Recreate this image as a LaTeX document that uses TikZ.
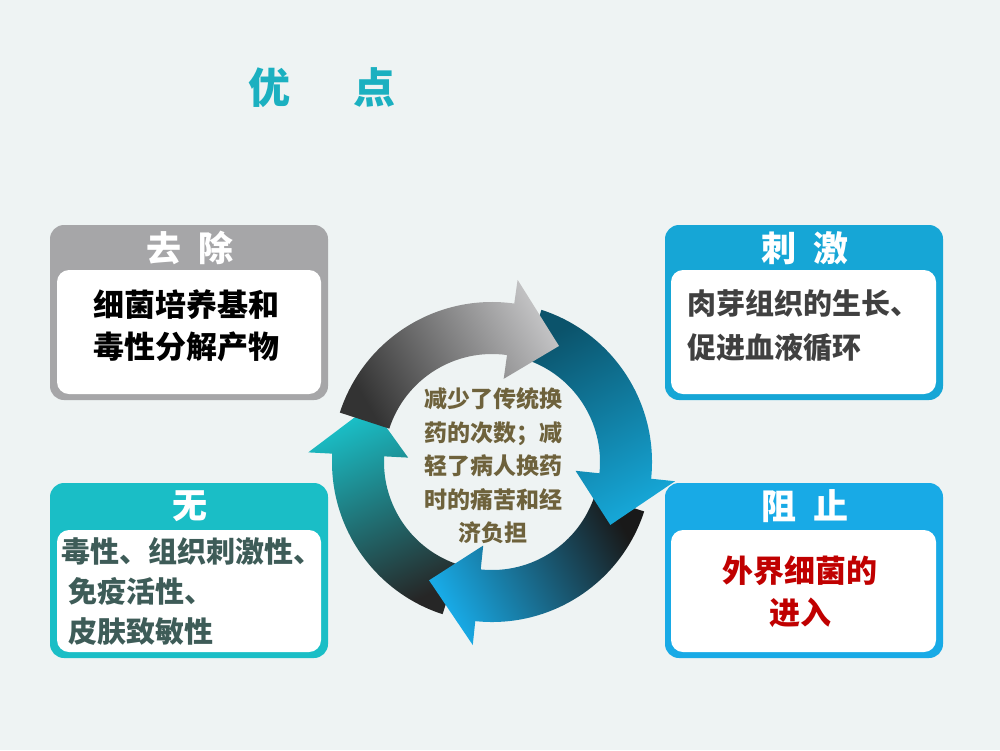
\documentclass[tikz,border=0pt]{standalone}
\usepackage{fontspec}
\setmainfont{Noto Sans CJK SC}
\begin{document}
\begin{tikzpicture}[x=1pt,y=-1pt,
  outer/.style={rounded corners=14pt,line width=0pt},
  inner/.style={fill=white,rounded corners=12pt},
  head/.style={font=\fontsize{35}{35}\selectfont\bfseries,text=white},
  body/.style={font=\fontsize{31}{42}\selectfont\bfseries,align=left},
]
\fill[color={rgb,255:red,238;green,243;blue,243}] (0,0) rectangle (1000,750);
\node[font=\fontsize{42}{42}\selectfont\bfseries,text={rgb,255:red,27;green,176;blue,192}] (title) at (322,88) {优\hspace{1.5em}点};
% boxes
\definecolor{gr}{RGB}{166,166,168}
\definecolor{bl}{RGB}{22,166,214}
\definecolor{te}{RGB}{26,190,198}
\definecolor{bb}{RGB}{24,170,230}
\fill[gr,outer] (50,225) rectangle (328,400);
\fill[inner] (57,270) rectangle (321,394);
\node[head] (h1) at (190,248) {去\hspace{0.5em}除};
\node[body,text=black] (b1) at (186,326) {细菌培养基和\\毒性分解产物};
\fill[bl,outer] (665,225) rectangle (943,400);
\fill[inner] (671,270) rectangle (936,394);
\node[head] (h2) at (805,248) {刺\hspace{0.5em}激};
\node[body,font=\fontsize{29}{44}\selectfont\bfseries,text={rgb,255:red,64;green,64;blue,64}] (b2) at (803,326) {肉芽组织的生长、\\促进血液循环};
\fill[te,outer] (50,483) rectangle (328,658);
\fill[inner] (57,530) rectangle (321,652);
\node[head] (h3) at (190,506) {无};
\node[body,font=\fontsize{29}{40}\selectfont\bfseries,text={rgb,255:red,62;green,92;blue,88}] (b3) at (192,591) {毒性、组织刺激性、\\\ 免疫活性、\\\ 皮肤致敏性};
\fill[bb,outer] (665,483) rectangle (943,658);
\fill[inner] (671,530) rectangle (936,652);
\node[head] (h4) at (805,506) {阻\hspace{0.5em}止};
\node[body,align=center,text={rgb,255:red,192;green,0;blue,0}] (b4) at (800,592) {外界细菌的\\进入};
% cycle arrows
\begin{scope}[shift={(492,462)}]
\def\R{160}\def\r{108}\def\m{134}
\newcommand\carrow[4]{% start, end(tip), color1, color2
  \pgfmathsetmacro\h{#2-22}
  \shade[left color=#3,right color=#4,shading angle=#2]
   (#1:\R) arc[start angle=#1,end angle=\h,radius=\R]
   -- (\h:\R+24) -- (#2:\m) -- (\h:\r-24) -- (\h:\r)
   arc[start angle=\h,end angle=#1,radius=\r] -- cycle;}
\carrow{108}{205}{black!85}{te}
\carrow{18}{118}{bb}{black!90}
\carrow{288}{388}{bl!50!black}{bl}
\carrow{198}{300}{gr!70}{black!80}
\end{scope}
\node[font=\fontsize{23}{33.5}\selectfont\bfseries,align=center,text={rgb,255:red,110;green,98;blue,60}] (c) at (493,466) {减少了传统换\\药的次数；减\\轻了病人换药\\时的痛苦和经\\济负担};
\end{tikzpicture}
\end{document}
